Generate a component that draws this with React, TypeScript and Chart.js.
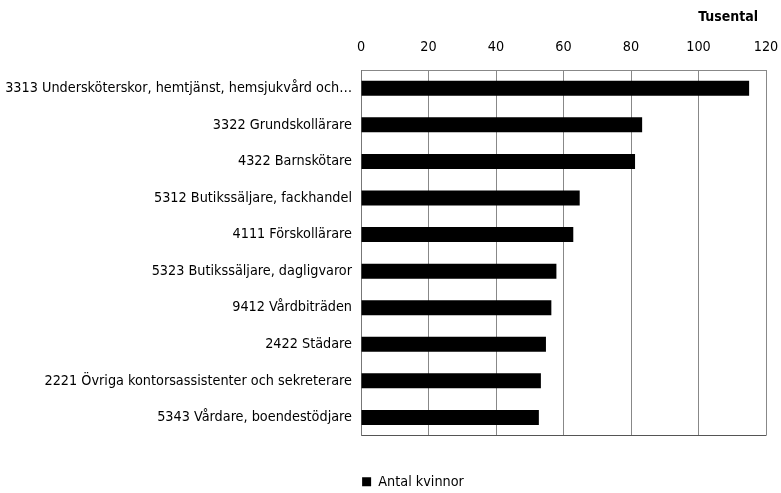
import React, { useEffect, useRef } from "react";
import { Chart, registerables } from "chart.js";

Chart.register(...registerables);

const categories = [
  "3313 Undersköterskor, hemtjänst, hemsjukvård och…",
  "3322 Grundskollärare",
  "4322 Barnskötare",
  "5312 Butikssäljare, fackhandel",
  "4111 Förskollärare",
  "5323 Butikssäljare, dagligvaror",
  "9412 Vårdbiträden",
  "2422 Städare",
  "2221 Övriga kontorsassistenter och sekreterare",
  "5343 Vårdare, boendestödjare",
];

const antalKvinnor = [115, 83.3, 81.2, 64.8, 62.9, 57.9, 56.4, 54.8, 53.3, 52.7];

const xTicks = [0, 20, 40, 60, 80, 100, 120];
const unitLabel = "Tusental";
const seriesLabel = "Antal kvinnor";

const FONT = "'DejaVu Sans Condensed', 'Liberation Sans Narrow', sans-serif";

export default function App() {
  const ref = useRef<HTMLCanvasElement | null>(null);

  useEffect(() => {
    if (!ref.current) return;
    const unitPlugin = {
      id: "unitLabel",
      afterLayout(chart: any) {
        const lg = chart.legend;
        if (lg) {
          lg.left += 30;
          lg.right += 30;
        }
      },
      afterDraw(chart: any) {
        const { ctx, chartArea } = chart;
        ctx.save();
        ctx.font = `bold 14px ${FONT}`;
        ctx.fillStyle = "#000";
        ctx.textAlign = "right";
        ctx.textBaseline = "middle";
        ctx.fillText(unitLabel, chartArea.right - 8, 17);
        ctx.restore();
      },
    };
    const chart = new Chart(ref.current, {
      type: "bar",
      data: {
        labels: categories,
        datasets: [
          {
            label: seriesLabel,
            data: antalKvinnor,
            backgroundColor: "#000",
            borderWidth: 0,
            barPercentage: 0.41,
            categoryPercentage: 1,
          },
        ],
      },
      plugins: [unitPlugin],
      options: {
        indexAxis: "y",
        animation: false,
        responsive: false,
        maintainAspectRatio: false,
        layout: { padding: { top: 0, right: 15, bottom: -6, left: 0 } },
        font: { family: FONT, size: 14.3 },
        plugins: {
          legend: {
            position: "bottom",
            labels: {
              color: "#000",
              boxWidth: 9,
              boxHeight: 9,
              padding: 39,
              font: { family: FONT, size: 14.3 },
            },
          },
          tooltip: { enabled: false },
        },
        scales: {
          x: {
            position: "top",
            min: 0,
            max: 120,
            afterBuildTicks(scale: any) {
              scale.ticks = xTicks.map((v) => ({ value: v }));
            },
            afterFit(scale: any) {
              scale.height = 70;
              scale.paddingLeft = 0;
              scale.paddingRight = 0;
            },
            ticks: {
              color: "#000",
              padding: 14,
              maxRotation: 0,
              font: { family: FONT, size: 14.3 },
            },
            grid: {
              color: "#888",
              lineWidth: 1,
              drawTicks: false,
            },
            border: { display: true, color: "#888" },
          },
          y: {
            afterFit(scale: any) {
              scale.width = 361;
              scale.paddingTop = 0;
              scale.paddingBottom = 0;
            },
            ticks: {
              color: "#000",
              padding: 9,
              autoSkip: false,
              font: { family: FONT, size: 14.3 },
            },
            grid: {
              offset: true,
              drawTicks: false,
              color: (c: any) => (c.type === "scale" ? "#555" : "rgba(0,0,0,0)"),
            },
            border: { display: true, color: "#777" },
          },
        },
      },
    });
    return () => chart.destroy();
  }, []);

  return (
    <div style={{ position: "fixed", left: 0, top: 0, width: 781, height: 493, background: "#fff" }}>
      <canvas ref={ref} width={781} height={493} style={{ width: 781, height: 493, display: "block" }} />
    </div>
  );
}
